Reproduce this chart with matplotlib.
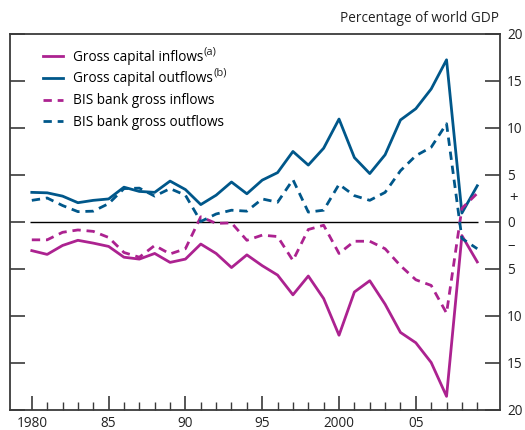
import matplotlib
matplotlib.use('Agg')
from matplotlib import pyplot as plt
import numpy as np

plt.rcParams['font.family'] = ['Open Sans', 'DejaVu Sans']

# 데이터 (세계 GDP 대비 %, 유입은 음수로 표시)
years = np.arange(1980, 2010)
gross_inflows = [-3.1, -3.5, -2.55, -2.0, -2.3, -2.65, -3.8, -4.0, -3.4, -4.35,
                 -4.0, -2.4, -3.4, -4.9, -3.55, -4.7, -5.7, -7.8, -5.8, -8.2,
                 -12.1, -7.5, -6.3, -8.8, -11.8, -12.9, -15.0, -18.6, -1.5, -4.3]
gross_outflows = [3.1, 3.05, 2.7, 2.0, 2.25, 2.4, 3.65, 3.2, 3.1, 4.3,
                  3.4, 1.8, 2.8, 4.2, 2.95, 4.4, 5.2, 7.45, 6.0, 7.8,
                  10.9, 6.8, 5.1, 7.1, 10.8, 12.0, 14.1, 17.2, 0.9, 3.8]
bis_inflows = [-1.95, -1.95, -1.15, -0.9, -1.05, -1.7, -3.3, -3.8, -2.55, -3.45,
               -2.9, 0.5, -0.2, -0.15, -2.0, -1.45, -1.6, -4.15, -0.85, -0.4,
               -3.4, -2.1, -2.1, -2.9, -4.7, -6.2, -6.8, -9.75, 1.4, 3.0]
bis_outflows = [2.25, 2.5, 1.7, 1.05, 1.1, 1.9, 3.5, 3.55, 2.7, 3.5,
                2.8, 0.0, 0.8, 1.2, 1.1, 2.4, 2.05, 4.45, 1.0, 1.2,
                3.95, 2.75, 2.25, 3.1, 5.4, 7.0, 7.9, 10.4, -1.8, -2.9]

yticks = list(range(-20, 21, 5))
xticks = [1980, 1985, 1990, 1995, 2000, 2005]
xticklabels = ['1980', '85', '90', '95', '2000', '05']
footnotes = ['(a)', '(b)']

magenta = '#AC2290'
blue = '#00578A'
axis_col = '#3a3a3a'
txt_col = '#222222'
fs = 9.8

fig = plt.figure(figsize=(5.25, 4.3), dpi=100)
ax = fig.add_axes([10 / 525, 1 - 409.5 / 430, 490 / 525, 376 / 430])

# 기준선 (0)
ax.hlines(0, years[0] - 0.1, years[-1] + 0.05, color='black', lw=1.0, zorder=1)

ax.plot(years, gross_inflows, color=magenta, lw=2.0, label='Gross capital inflows')
ax.plot(years, gross_outflows, color=blue, lw=2.0, label='Gross capital outflows')
ax.plot(years, bis_inflows, color=magenta, lw=2.0, ls=(0, (3.0, 2.1)), label='BIS bank gross inflows')
ax.plot(years, bis_outflows, color=blue, lw=2.0, ls=(0, (3.0, 2.1)), label='BIS bank gross outflows')

ax.set_xlim(1978.58, 2010.48)
ax.set_ylim(-20, 20)

ax.set_yticks(yticks)
ax.set_yticklabels([str(abs(v)) for v in yticks])
ax.tick_params(axis='y', direction='in', left=True, right=True, labelleft=False,
               labelright=True, length=11, width=1.2, color=axis_col, labelsize=fs,
               pad=5, labelcolor=txt_col)

ax.set_xticks(xticks)
ax.set_xticklabels(xticklabels)
ax.set_xticks(years, minor=True)
ax.tick_params(axis='x', which='major', direction='in', length=10, width=1.2,
               color=axis_col, labelsize=fs, pad=5, labelcolor=txt_col)
ax.tick_params(axis='x', which='minor', direction='in', length=6, width=1.0, color=axis_col)

for s in ax.spines.values():
    s.set_color(axis_col)
    s.set_linewidth(1.3)

# 오른쪽 +/- 표시
ax.text(1.018, 2.5, '+', transform=ax.get_yaxis_transform(), ha='left', va='center',
        fontsize=fs + 1, color=txt_col)
ax.text(1.016, -2.5, '\u2013', transform=ax.get_yaxis_transform(), ha='left', va='center',
        fontsize=fs + 1, color=txt_col)

fig.text(499 / 525, 1 - 18 / 430, 'Percentage of world GDP', ha='right', va='center',
         fontsize=fs, color=txt_col)

leg = ax.legend(loc='upper left', bbox_to_anchor=(0.067, 0.957), frameon=False, fontsize=fs,
                handlelength=1.5, handletextpad=0.7, labelspacing=0.5, borderpad=0,
                borderaxespad=0)

# 범례 첨자 (a), (b) 직접 추가
fig.canvas.draw()
r = fig.canvas.get_renderer()
W, H = fig.bbox.width, fig.bbox.height
for t, note in zip(leg.get_texts()[:2], footnotes):
    bb = t.get_window_extent(r)
    fig.text((bb.x1 + 0.5) / W, (bb.y0 + 0.5 * bb.height) / H, note, ha='left', va='bottom',
             fontsize=fs * 0.82, color=txt_col)

fig.savefig('out.png', dpi=100)
plt.close()
